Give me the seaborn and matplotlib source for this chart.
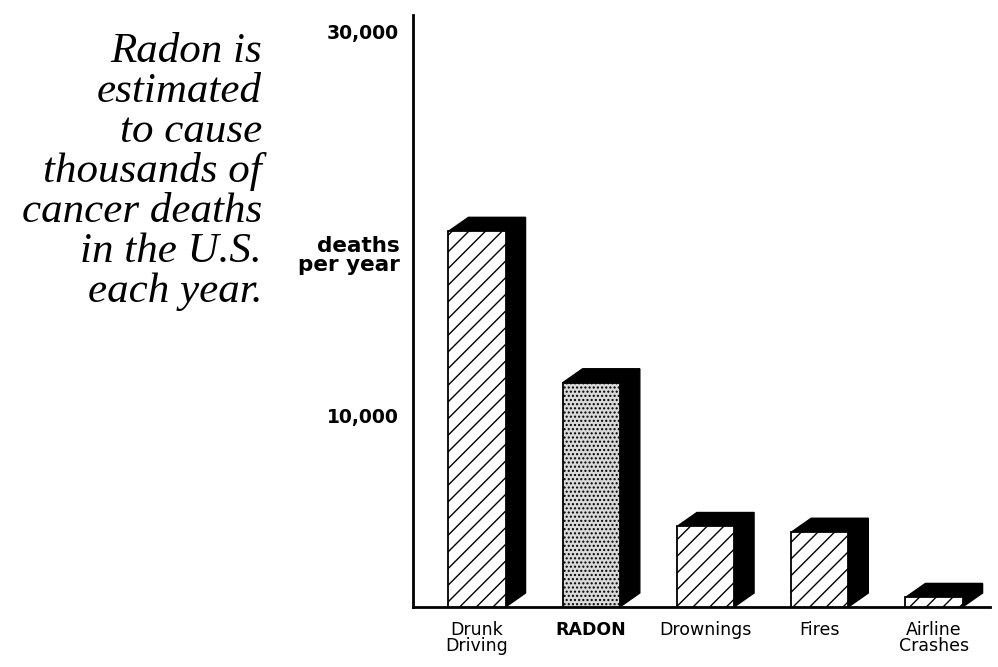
import matplotlib
matplotlib.use("Agg")
import matplotlib.pyplot as plt
import seaborn as sns
from matplotlib.patches import Polygon

# ---- data ----
categories = ["Drunk\nDriving", "RADON", "Drownings", "Fires", "Airline\nCrashes"]
deaths = [19600, 11700, 4200, 3900, 500]
ytick_values = [10000, 30000]
ytick_labels = ["10,000", "30,000"]
title_lines = ["Radon is", "estimated", "to cause", "thousands of",
               "cancer deaths", "in the U.S.", "each year."]
hatches = ["//", "....", "//", "//", "//"]
faces = ["white", "#d9d9d9", "white", "white", "white"]

sns.set_theme(style="white")
plt.rcParams["font.family"] = ["DejaVu Sans"]
plt.rcParams["hatch.linewidth"] = 1.0
plt.rcParams["text.color"] = "black"
plt.rcParams["xtick.color"] = "black"
plt.rcParams["ytick.color"] = "black"

W, H = 998, 667
fig = plt.figure(figsize=(W / 100, H / 100), dpi=100)
ax_left, ax_right, ax_bot, ax_top = 413, 990, 607, 15
ax = fig.add_axes([ax_left / W, (H - ax_bot) / H, (ax_right - ax_left) / W, (ax_bot - ax_top) / H])

sns.barplot(x=categories, y=deaths, ax=ax, color="white", edgecolor="black",
            linewidth=1.3, width=0.5, saturation=1, zorder=3)

xmin, xmax = -0.56, 4.49
ymax = 30000 + (32 - 15) / 19.17 * 1000
ax.set_xlim(xmin, xmax)
ax.set_ylim(0, ymax)

for p, h, fc in zip(ax.patches, hatches, faces):
    p.set_hatch(h)
    p.set_facecolor(fc)

# 3-D extrusion (top and side faces) offset in pixels
px_x = (ax_right - ax_left) / (xmax - xmin)
px_y = (ax_bot - ax_top) / ymax
dx, dy = 20 / px_x, 14 / px_y
for p in ax.patches:
    x0 = p.get_x()
    x1 = x0 + p.get_width()
    top = p.get_height()
    topface = [(x0, top), (x1, top), (x1 + dx, top + dy), (x0 + dx, top + dy)]
    side = [(x1, 0), (x1, top), (x1 + dx, top + dy), (x1 + dx, dy)]
    for poly in (topface, side):
        ax.add_patch(Polygon(poly, closed=True, facecolor="black", edgecolor="black",
                             linewidth=1, zorder=2, clip_on=False))

sns.despine(ax=ax, top=True, right=True)
for s in ("left", "bottom"):
    ax.spines[s].set_color("black")
    ax.spines[s].set_linewidth(2)

ax.set_yticks(ytick_values)
ax.set_yticklabels(ytick_labels, fontsize=13.5, fontweight="bold", family="DejaVu Sans")
ax.tick_params(axis="y", length=0, pad=10.5)
ax.tick_params(axis="x", length=0, pad=10)
ax.set_xlabel("")
ax.set_ylabel("")
for lbl in ax.get_xticklabels():
    lbl.set_fontsize(12.5)
    lbl.set_linespacing(0.9)
    if lbl.get_text() == "RADON":
        lbl.set_fontweight("bold")

fig.text(400 / W, 1 - 236 / H, "deaths\nper year", ha="right", va="top",
         multialignment="right", fontsize=15.5, fontweight="bold", linespacing=0.95)

for i, line in enumerate(title_lines):
    fig.text(262 / W, 1 - (62 + 40 * i) / H, line, ha="right", va="baseline",
             fontsize=31, style="italic", family="Liberation Serif")

fig.savefig("out.png", dpi=100)
